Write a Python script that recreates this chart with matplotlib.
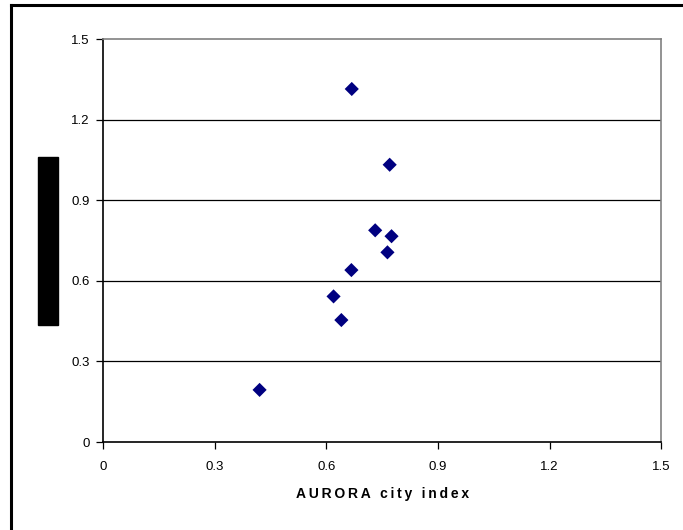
import matplotlib.pyplot as plt
from matplotlib.patches import Rectangle
from matplotlib.lines import Line2D

plt.rcParams['font.family'] = ['Liberation Sans', 'DejaVu Sans']

# AURORA city index vs. other index
city_index = [0.668, 0.770, 0.731, 0.775, 0.764, 0.667, 0.619, 0.640, 0.420]
other_index = [1.314, 1.032, 0.788, 0.766, 0.706, 0.640, 0.542, 0.454, 0.194]
ticks = [0, 0.3, 0.6, 0.9, 1.2, 1.5]
tick_labels = ['0', '0.3', '0.6', '0.9', '1.2', '1.5']
x_title = 'AURORA city index'

fig = plt.figure(figsize=(6.83, 5.30), dpi=100)
ax = fig.add_axes([0.1515, 0.166, 0.8163, 0.7604])

for t in ticks[1:-1]:
    ax.axhline(t, color='black', lw=0.9, zorder=1)

ax.scatter(city_index, other_index, marker='D', s=52, color='#000080',
           edgecolors='none', zorder=3)

ax.set_xlim(0, 1.5)
ax.set_ylim(0, 1.5)
ax.set_xticks(ticks)
ax.set_xticklabels(tick_labels)
ax.set_yticks(ticks)
ax.set_yticklabels(tick_labels)
ax.tick_params(axis='both', labelsize=9.5, length=5, width=0.9, direction='out')
ax.tick_params(axis='x', pad=9)
ax.tick_params(axis='y', pad=5)

ax.spines['left'].set_color('black')
ax.spines['bottom'].set_color('black')
ax.spines['top'].set_color('#808080')
ax.spines['right'].set_color('#808080')
for s in ax.spines.values():
    s.set_linewidth(1.2)

# wide letter spacing like the original
spaced = '\u2009'.join(x_title)
ax.set_xlabel(spaced, fontsize=10, fontweight='bold', labelpad=10)

# redacted y label block
fig.patches.append(Rectangle((38 / 683, 1 - 325 / 530), 20 / 683, 168 / 530,
                             transform=fig.transFigure, color='black'))
# outer frame (only left and top visible)
fig.add_artist(Line2D([11 / 683, 11 / 683], [0, 1 - 5 / 530], color='black', lw=2.2,
                      transform=fig.transFigure))
fig.add_artist(Line2D([11 / 683, 1], [1 - 5 / 530, 1 - 5 / 530], color='black', lw=2.2,
                      transform=fig.transFigure))

fig.savefig('out.png', dpi=100)
